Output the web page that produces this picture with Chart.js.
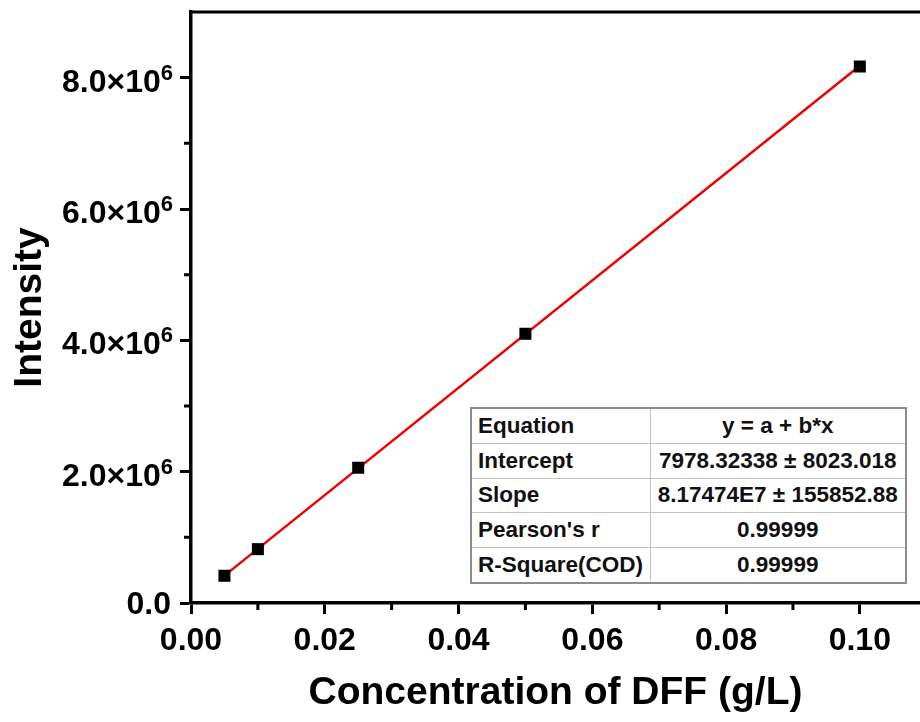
<!DOCTYPE html>
<html lang="en">
<head>
<meta charset="UTF-8">
<title>Intensity vs Concentration of DFF</title>
<style>
    body { margin: 0; background: #fff; }
    .wrap { position: relative; width: 920px; height: 722px; }
    canvas { position: absolute; left: 0; top: 0; }
    .fit {
        position: absolute; left: 470px; top: 407px;
        width: 435px; height: 177px;
        table-layout: fixed; border-collapse: collapse;
        font: bold 22.5px "Liberation Sans", Arial, sans-serif;
        color: #111; background: #fff;
        border: 2px solid #8c8c8c;
    }
    .fit td { border: 1px solid #c4c4c4; padding: 0 6px; white-space: nowrap; }
    .fit td.v { text-align: center; padding: 0 2px; }
</style>
</head>
<body>
<div class="wrap">
    <canvas id="chart" width="920" height="722"></canvas>
    <table class="fit" id="fitTable">
        <colgroup><col style="width:179px"><col style="width:256px"></colgroup>
    </table>
</div>

<script src="https://cdn.jsdelivr.net/npm/chart.js@4/dist/chart.umd.min.js"></script>
<script>
    // data
    const concX = [0.005, 0.01, 0.025, 0.05, 0.1];
    const intensityY = [415000, 820000, 2060000, 4100000, 8170000];
    // ends of the red fit line
    const fitX = [0.005, 0.1];
    const fitY = [416700, 8182700];

    const xTicks = [0, 0.02, 0.04, 0.06, 0.08, 0.10];
    const xTickLabels = ['0.00', '0.02', '0.04', '0.06', '0.08', '0.10'];
    const xMinor = [0.01, 0.03, 0.05, 0.07, 0.09];
    const yTicks = [0, 2e6, 4e6, 6e6, 8e6];
    const yTickMant = ['0.0', '2.0×10', '4.0×10', '6.0×10', '8.0×10'];
    const yTickExp = ['', '6', '6', '6', '6'];
    const yMinor = [1e6, 3e6, 5e6, 7e6];

    const fitRows = [
        ['Equation', 'y = a + b*x'],
        ['Intercept', '7978.32338 ± 8023.018'],
        ['Slope', '8.17474E7 ± 155852.88'],
        ["Pearson's r", '0.99999'],
        ['R-Square(COD)', '0.99999']
    ];

    // table of fit results
    const table = document.getElementById('fitTable');
    fitRows.forEach(r => {
        const tr = document.createElement('tr');
        tr.innerHTML = `<td>${r[0]}</td><td class="v">${r[1]}</td>`;
        table.appendChild(tr);
    });

    const FONT = '"Liberation Sans", Arial, sans-serif';

    // top frame line, minor ticks and tick labels
    const axisExtras = {
        id: 'axisExtras',
        afterDraw(chart) {
            const { ctx, chartArea: a, scales: { x, y } } = chart;
            ctx.save();
            ctx.strokeStyle = '#000';
            ctx.lineWidth = 3;
            ctx.beginPath();
            ctx.moveTo(a.left - 1.5, a.top);
            ctx.lineTo(chart.width, a.top);
            ctx.stroke();

            ctx.beginPath();
            xMinor.forEach(v => {
                const px = x.getPixelForValue(v);
                ctx.moveTo(px, a.bottom);
                ctx.lineTo(px, a.bottom + 7);
            });
            yMinor.forEach(v => {
                const py = y.getPixelForValue(v);
                ctx.moveTo(a.left, py);
                ctx.lineTo(a.left - 7, py);
            });
            ctx.stroke();

            ctx.fillStyle = '#000';
            ctx.font = 'bold 32px ' + FONT;
            ctx.textAlign = 'center';
            ctx.textBaseline = 'alphabetic';
            xTicks.forEach((v, i) => {
                ctx.fillText(xTickLabels[i], x.getPixelForValue(v), a.bottom + 47);
            });

            ctx.textAlign = 'right';
            yTicks.forEach((v, i) => {
                const py = y.getPixelForValue(v);
                const right = 173;
                if (yTickExp[i]) {
                    ctx.font = 'bold 22px ' + FONT;
                    const w = ctx.measureText(yTickExp[i]).width;
                    ctx.fillText(yTickExp[i], right, py + 2);
                    ctx.font = 'bold 32px ' + FONT;
                    ctx.fillText(yTickMant[i], right - w, py + 14);
                } else {
                    ctx.font = 'bold 32px ' + FONT;
                    ctx.fillText(yTickMant[i], right - 2, py + 11);
                }
            });
            ctx.restore();
        }
    };

    new Chart(document.getElementById('chart'), {
        type: 'scatter',
        data: {
            datasets: [
                {
                    type: 'line',
                    data: fitX.map((v, i) => ({ x: v, y: fitY[i] })),
                    borderColor: '#ee0000',
                    borderWidth: 2.5,
                    pointRadius: 0,
                    fill: false,
                    order: 2
                },
                {
                    data: concX.map((v, i) => ({ x: v, y: intensityY[i] })),
                    pointStyle: 'rect',
                    pointRadius: 8.5,
                    backgroundColor: '#000',
                    borderColor: '#000',
                    borderWidth: 0,
                    order: 1
                }
            ]
        },
        options: {
            responsive: false,
            animation: false,
            layout: { autoPadding: false, padding: { top: 12, right: 0, left: 0, bottom: 0 } },
            plugins: { legend: { display: false }, tooltip: { enabled: false } },
            scales: {
                x: {
                    type: 'linear',
                    min: 0,
                    max: 0.109,
                    afterBuildTicks: s => { s.ticks = xTicks.map(v => ({ value: v })); },
                    afterFit: s => { s.height = 119; },
                    grid: { drawOnChartArea: false, tickLength: 11, tickWidth: 3, tickColor: '#000' },
                    border: { width: 3.5, color: '#000' },
                    ticks: { display: false },
                    title: {
                        display: true,
                        text: 'Concentration of DFF (g/L)',
                        color: '#000',
                        font: { family: FONT, size: 39, weight: 'bold' },
                        padding: { top: 0, bottom: 5 }
                    }
                },
                y: {
                    type: 'linear',
                    min: 0,
                    max: 9e6,
                    afterBuildTicks: s => { s.ticks = yTicks.map(v => ({ value: v })); },
                    afterFit: s => { s.width = 191; },
                    grid: { drawOnChartArea: false, tickLength: 11, tickWidth: 3, tickColor: '#000' },
                    border: { width: 3.5, color: '#000' },
                    ticks: { display: false },
                    title: {
                        display: true,
                        text: 'Intensity',
                        color: '#000',
                        font: { family: FONT, size: 39, weight: 'bold' },
                        padding: { top: 7, bottom: 0 }
                    }
                }
            }
        },
        plugins: [axisExtras]
    });
</script>
</body>
</html>
